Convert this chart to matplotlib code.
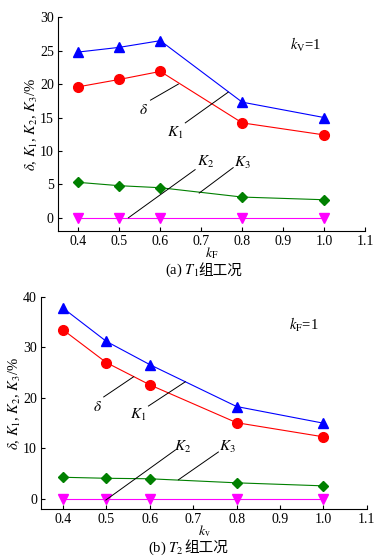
import matplotlib
matplotlib.use("Agg")
import matplotlib.pyplot as plt

plt.rcParams['font.family'] = ['Liberation Serif', 'Noto Sans CJK SC', 'DejaVu Sans']
plt.rcParams['mathtext.fontset'] = 'stix'

# (a) T1 group, x = kF
kf = [0.4, 0.5, 0.6, 0.8, 1.0]
delta_a = [19.6, 20.7, 21.9, 14.2, 12.4]
k1_a = [24.8, 25.5, 26.5, 17.3, 15.0]
k2_a = [0, 0, 0, 0, 0]
k3_a = [5.3, 4.8, 4.5, 3.1, 2.7]

# (b) T2 group, x = kV
kv = [0.4, 0.5, 0.6, 0.8, 1.0]
delta_b = [33.5, 27.0, 22.6, 15.1, 12.3]
k1_b = [37.8, 31.2, 26.6, 18.3, 15.0]
k2_b = [0, 0, 0, 0, 0]
k3_b = [4.3, 4.1, 4.0, 3.2, 2.6]

xticks = [0.4, 0.5, 0.6, 0.7, 0.8, 0.9, 1.0, 1.1]
xticklabels = ['0.4', '0.5', '0.6', '0.7', '0.8', '0.9', '1.0', '1.1']

fig = plt.figure(figsize=(3.92, 5.57), dpi=100)
ax1 = fig.add_axes([0.148, 0.585, 0.783, 0.384])
ax2 = fig.add_axes([0.105, 0.086, 0.831, 0.381])


def draw(ax, x, d, k1, k2, k3, ylim, yticks, xlab, cond, notes):
    ax.plot(x, k1, color='#0000ff', marker='^', ms=6.5, lw=0.8)
    ax.plot(x, d, color='#ff0000', marker='o', ms=7, lw=0.8)
    ax.plot(x, k3, color='#008000', marker='D', ms=5.5, lw=0.8)
    ax.plot(x, k2, color='#ff00ff', marker='v', ms=6.5, lw=0.8, clip_on=False)
    ax.set_xlim(0.35, 1.1)
    ax.set_ylim(*ylim)
    ax.set_xticks(xticks)
    ax.set_xticklabels(xticklabels)
    ax.set_yticks(yticks)
    ax.tick_params(direction='in', labelsize=10, length=3, width=0.8, pad=3)
    for s in ['top', 'right']:
        ax.spines[s].set_visible(False)
    for s in ['left', 'bottom']:
        ax.spines[s].set_linewidth(0.8)
    ax.set_ylabel(r'$\delta$, $K_1$, $K_2$, $K_3$/%', fontsize=10.5, labelpad=0)
    ax.set_xlabel(xlab, fontsize=10, labelpad=-2.5)
    ax.text(0.955, ylim[1] * 0.86, cond, fontsize=10.5, ha='center', va='center')
    # leader lines with labels
    for label, tx, ty, x0, y0, x1, y1 in notes:
        ax.plot([x0, x1], [y0, y1], color='black', lw=0.7)
        ax.text(tx, ty, label, fontsize=11, ha='center', va='center')


draw(ax1, kf, delta_a, k1_a, k2_a, k3_a, (-2, 30), [0, 5, 10, 15, 20, 25, 30],
     r'$k_\mathrm{F}$', r'$k_\mathrm{V}$=1',
     [(r'$\delta$', 0.559, 16.1, 0.576, 17.6, 0.644, 20.0),
      (r'$K_1$', 0.637, 12.7, 0.661, 14.2, 0.766, 18.8),
      (r'$K_2$', 0.71, 8.4, 0.522, 0.0, 0.685, 7.2),
      (r'$K_3$', 0.80, 8.2, 0.695, 3.7, 0.778, 7.5)])

draw(ax2, kv, delta_b, k1_b, k2_b, k3_b, (-2, 40), [0, 10, 20, 30, 40],
     r'$k_\mathrm{v}$', r'$k_\mathrm{F}$=1',
     [(r'$\delta$', 0.48, 18.2, 0.494, 20.2, 0.563, 24.2),
      (r'$K_1$', 0.574, 16.6, 0.597, 18.4, 0.682, 23.2),
      (r'$K_2$', 0.675, 10.3, 0.499, -0.2, 0.659, 9.7),
      (r'$K_3$', 0.778, 10.3, 0.666, 3.8, 0.758, 9.3)])

# captions: mathtext part, then the Chinese part right after it
t1 = fig.text(0.42, 0.514, r'(a) $T_1$', fontsize=10.5, ha='left', va='center')
t2 = fig.text(0.378, 0.016, r'(b) $T_2$', fontsize=10.5, ha='left', va='center')
fig.canvas.draw()
r = fig.canvas.get_renderer()
for t in [t1, t2]:
    bb = t.get_window_extent(r).transformed(fig.transFigure.inverted())
    x, y = t.get_position()
    fig.text(bb.x1, y, '组工况', fontsize=10.5, ha='left', va='center',
             family='Noto Sans CJK SC')

fig.savefig('out.png', dpi=100)
